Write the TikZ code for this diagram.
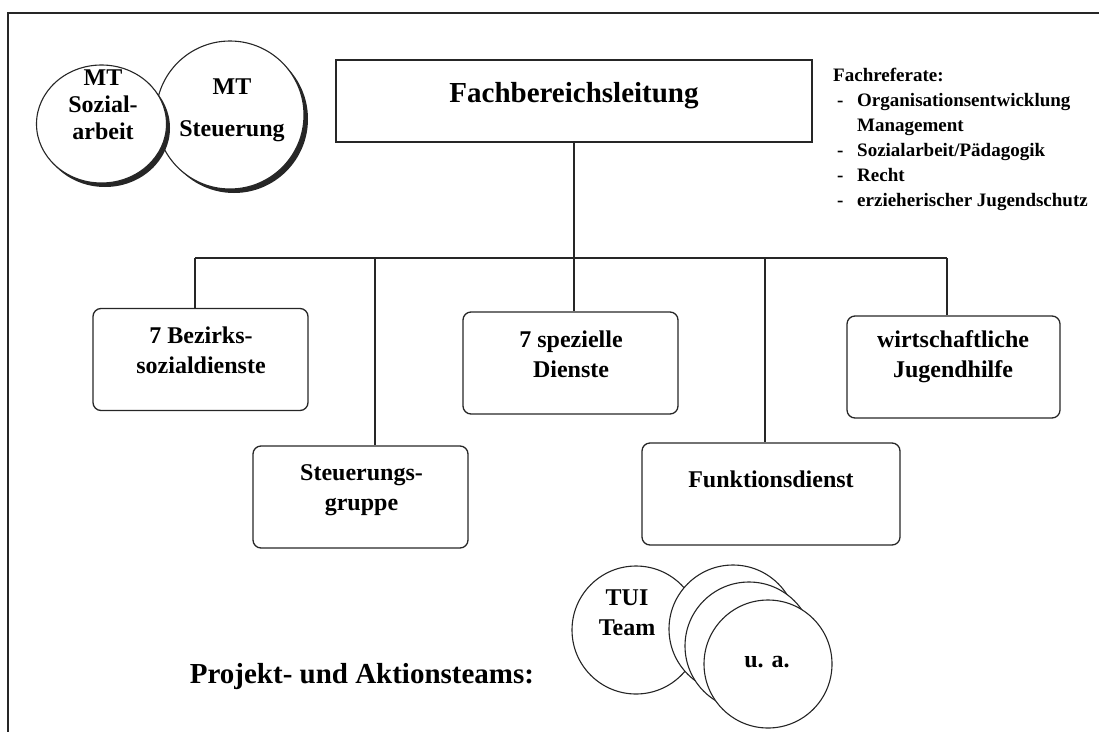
\documentclass[tikz,border=0pt]{standalone}
\usepackage{fontspec}
\setmainfont{Liberation Serif}
\usetikzlibrary{shapes.geometric}

\newcommand{\refitem}[1]{\makebox[24pt][l]{\hspace*{4pt}-}#1}

\begin{document}
\begin{tikzpicture}[x=1pt,y=-1pt,
    box/.style={draw=black!85,line width=1.3pt,rounded corners=8pt,inner sep=0pt,
        minimum width=215pt,minimum height=102pt},
    boxtext/.style={font=\fontsize{24}{30}\selectfont\bfseries,align=center,inner sep=0pt,anchor=north},
    team/.style={circle,draw=black!85,line width=1.1pt,fill=white,inner sep=0pt},
    reftext/.style={font=\fontsize{19}{25}\selectfont\bfseries,align=left,inner sep=0pt}]
    \useasboundingbox (0,0) rectangle (1099,731);
    \clip (0,0) rectangle (1099,731);

    % The frame
    \draw[line width=2.6pt,black!85] (8,13) rectangle (1130,760);

    % Place the top node
    \node[draw=black!85,line width=1.4pt,minimum width=476pt,minimum height=82pt,inner sep=0pt] (fbl) at (574,101) {};
    \node[boxtext,font=\fontsize{29}{34}\selectfont\bfseries] (fblt) at (574,82) {Fachbereichsleitung};
    \node[reftext,anchor=north west] (fref) at (833,68) {Fachreferate:\\
        \refitem{Organisationsentwicklung}\\
        \hspace*{24pt}Management\\
        \refitem{Sozialarbeit/Pädagogik}\\
        \refitem{Recht}\\
        \refitem{erzieherischer Jugendschutz}};

    % Place the MT circles
    \fill[black!85] (234,119) circle (74pt);
    \node[team,minimum size=148pt] (mtst) at (230,115) {};
    \fill[black!85] (105,128) ellipse (65pt and 59pt);
    \node[team,ellipse,minimum width=130pt,minimum height=118pt] (mtsa) at (101.5,124) {};
    \node[boxtext,font=\fontsize{24}{27}\selectfont\bfseries] (mtsat) at (103,70) {MT\\Sozial-\\arbeit};
    \node[boxtext] (mtstt) at (232,79) {MT\\[12pt]Steuerung};

    % Place the other nodes
    \node[box] (bsd) at (200.5,359.5) {};
    \node[boxtext] (bsdt) at (201,327) {7 Bezirks-\\sozialdienste};
    \node[box] (spd) at (570.5,363) {};
    \node[boxtext] (spdt) at (571,331) {7 spezielle\\Dienste};
    \node[box] (stg) at (360.5,497) {};
    \node[boxtext] (stgt) at (361.5,464) {Steuerungs-\\gruppe};
    \node[box,minimum width=258pt] (fkt) at (771,494) {};
    \node[boxtext] (fktt) at (771,471) {Funktionsdienst};
    \node[box,minimum width=213pt] (wjh) at (953.5,367) {};
    \node[boxtext] (wjht) at (953,330) {wirtschaftliche\\Jugendhilfe};

    % The lines!
    \coordinate (d1) at (195,258);
    \coordinate (d2) at (375,258);
    \coordinate (d4) at (765,258);
    \coordinate (d5) at (947,258);
    \draw[line width=1.2pt,black!85] (fbl.south) -- (fbl.south |- spd.north);
    \draw[line width=1.2pt,black!85] (d1) -- (d5);
    \draw[line width=1.2pt,black!85] (d1) -- (d1 |- bsd.north);
    \draw[line width=1.2pt,black!85] (d2) -- (d2 |- stg.north);
    \draw[line width=1.2pt,black!85] (d4) -- (d4 |- fkt.north);
    \draw[line width=1.2pt,black!85] (d5) -- (d5 |- wjh.north);

    % Project teams
    \node[boxtext,anchor=base,font=\fontsize{29}{34}\selectfont\bfseries] (pat) at (362,683) {Projekt- und Aktionsteams:};
    \node[team,minimum size=128pt] (tui) at (636,630) {};
    \node[team,minimum size=128pt] (pt1) at (733,629) {};
    \node[team,minimum size=128pt] (pt2) at (749,646) {};
    \node[team,minimum size=128pt] (pt3) at (768,664) {};
    \node[boxtext] (tuit) at (627,590) {TUI\\Team};
    \node[boxtext,anchor=base] (pt3t) at (767,667) {u. a.};
\end{tikzpicture}
\end{document}
